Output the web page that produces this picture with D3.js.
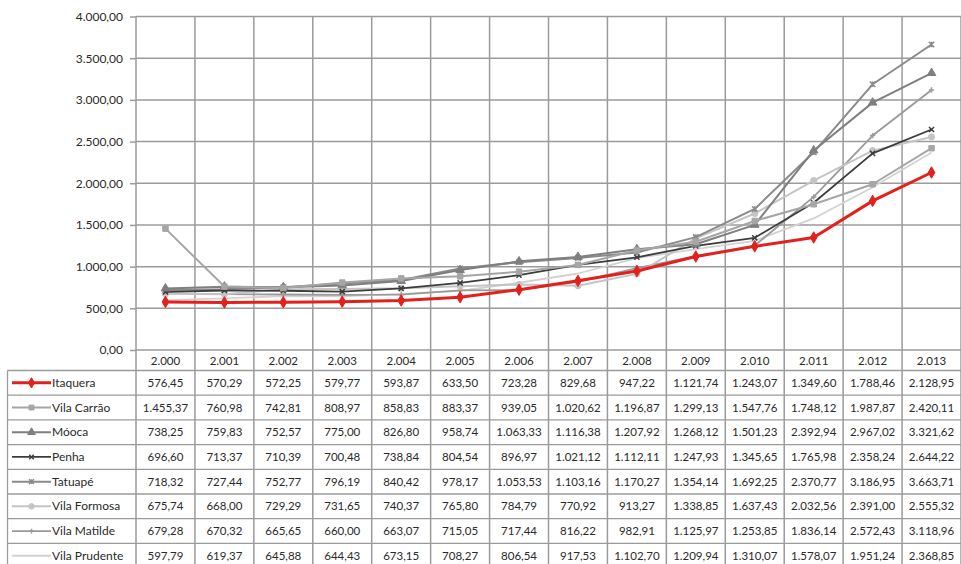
<!DOCTYPE html>
<html>
<head>
<meta charset="utf-8">
<script src="https://cdn.jsdelivr.net/npm/d3@7"></script>
<style>
  html, body { margin: 0; padding: 0; background: #fff; }
  svg { display: block; font-family: Lato, "Open Sans", "Liberation Sans", sans-serif; }
</style>
</head>
<body>
<svg id="chart" width="961" height="564"></svg>
<script>
// Years on the category axis
const years = [2000, 2001, 2002, 2003, 2004, 2005, 2006, 2007, 2008, 2009, 2010, 2011, 2012, 2013];

// Neighbourhood names, in table order
const districts = ["Itaquera", "Vila Carrão", "Móoca", "Penha", "Tatuapé", "Vila Formosa", "Vila Matilde", "Vila Prudente"];

// Yearly values per neighbourhood
const itaquera     = [576.45, 570.29, 572.25, 579.77, 593.87, 633.50, 723.28, 829.68, 947.22, 1121.74, 1243.07, 1349.60, 1788.46, 2128.95];
const vilaCarrao   = [1455.37, 760.98, 742.81, 808.97, 858.83, 883.37, 939.05, 1020.62, 1196.87, 1299.13, 1547.76, 1748.12, 1987.87, 2420.11];
const mooca        = [738.25, 759.83, 752.57, 775.00, 826.80, 958.74, 1063.33, 1116.38, 1207.92, 1268.12, 1501.23, 2392.94, 2967.02, 3321.62];
const penha        = [696.60, 713.37, 710.39, 700.48, 738.84, 804.54, 896.97, 1021.12, 1112.11, 1247.93, 1345.65, 1765.98, 2358.24, 2644.22];
const tatuape      = [718.32, 727.44, 752.77, 796.19, 840.42, 978.17, 1053.53, 1103.16, 1170.27, 1354.14, 1692.25, 2370.77, 3186.95, 3663.71];
const vilaFormosa  = [675.74, 668.00, 729.29, 731.65, 740.37, 765.80, 784.79, 770.92, 913.27, 1338.85, 1637.43, 2032.56, 2391.00, 2555.32];
const vilaMatilde  = [679.28, 670.32, 665.65, 660.00, 663.07, 715.05, 717.44, 816.22, 982.91, 1125.97, 1253.85, 1836.14, 2572.43, 3118.96];
const vilaPrudente = [597.79, 619.37, 645.88, 644.43, 673.15, 708.27, 806.54, 917.53, 1102.70, 1209.94, 1310.07, 1578.07, 1951.24, 2368.85];

// Y-axis tick values
const yTicks = [0, 500, 1000, 1500, 2000, 2500, 3000, 3500, 4000];

const seriesValues = [itaquera, vilaCarrao, mooca, penha, tatuape, vilaFormosa, vilaMatilde, vilaPrudente];

// Line styling per series
const styles = [
  { color: "#e3201c", width: 3,   marker: "diamond", size: 38 },
  { color: "#a6a6a6", width: 2,   marker: "square",  size: 30 },
  { color: "#7f7f7f", width: 2,   marker: "triangle",size: 32 },
  { color: "#3c3c3c", width: 1.8, marker: "x",       size: 26 },
  { color: "#8a8a8a", width: 2,   marker: "star",    size: 30 },
  { color: "#c4c4c4", width: 2,   marker: "circle",  size: 30 },
  { color: "#9a9a9a", width: 1.8, marker: "plus",    size: 28 },
  { color: "#d2d2d2", width: 1.8, marker: "none",    size: 0 }
];

const series = districts.map((name, i) => ({
  name,
  values: years.map((y, j) => ({ year: y, value: seriesValues[i][j] })),
  style: styles[i]
}));

const locale = d3.formatLocale({ decimal: ",", thousands: ".", grouping: [3], currency: ["", ""] });
const fmt2 = locale.format(",.2f");
const fmtYear = locale.format(",d");

const svg = d3.select("#chart");
const gridColor = "#9b9b9b";
const textColor = "#2a2a2a";

const x = d3.scaleBand().domain(years).range([136, 961]).paddingInner(0).paddingOuter(0);
const y = d3.scaleLinear().domain([0, 4000]).range([350, 16.5]);

// Horizontal gridlines and y axis labels
const yAxis = d3.axisLeft(y).tickValues(yTicks).tickFormat(fmt2).tickSize(6).tickPadding(7);
const yG = svg.append("g").attr("transform", "translate(136,0)").call(yAxis);
yG.select(".domain").remove();
yG.selectAll(".tick line").attr("stroke", gridColor).attr("stroke-width", 1.5);
yG.selectAll(".tick text").attr("fill", textColor).attr("font-size", 12).attr("font-family", "Lato, sans-serif");

svg.append("g").selectAll("line").data(yTicks).join("line")
  .attr("x1", 136).attr("x2", 961)
  .attr("y1", d => y(d)).attr("y2", d => y(d))
  .attr("stroke", gridColor).attr("stroke-width", 1.5);

// Data table geometry
const headerTop = 350, rowTop = 370.5, rowH = 24.7;
const tableBottom = rowTop + rowH * districts.length;
const labelLeft = 7.5;

// Vertical category boundaries through the plot and the table
const bounds = years.map(d => x(d)).concat([x.range()[1]]);
svg.append("g").selectAll("line").data(bounds).join("line")
  .attr("x1", d => d).attr("x2", d => d)
  .attr("y1", y(4000)).attr("y2", tableBottom)
  .attr("stroke", gridColor).attr("stroke-width", 1.5);

// Table horizontal rules
const rowLines = d3.range(districts.length + 1).map(i => rowTop + i * rowH);
svg.append("g").selectAll("line").data(rowLines).join("line")
  .attr("x1", labelLeft).attr("x2", 961)
  .attr("y1", d => d).attr("y2", d => d)
  .attr("stroke", gridColor).attr("stroke-width", 1.3);
svg.append("line")
  .attr("x1", labelLeft).attr("x2", labelLeft)
  .attr("y1", rowTop).attr("y2", tableBottom)
  .attr("stroke", gridColor).attr("stroke-width", 1.3);

// Header year labels
svg.append("g").selectAll("text").data(years).join("text")
  .attr("x", d => x(d) + x.bandwidth() / 2)
  .attr("y", (headerTop + rowTop) / 2 + 4.5)
  .attr("text-anchor", "middle")
  .attr("font-size", 11.5).attr("fill", textColor)
  .text(d => fmtYear(d));

// Marker path builder
function markerPath(type, size) {
  const r = Math.sqrt(size) / 2;
  switch (type) {
    case "diamond": return d3.symbol(d3.symbolDiamond, size)();
    case "square": return d3.symbol(d3.symbolSquare, size)();
    case "triangle": return d3.symbol(d3.symbolTriangle, size)();
    case "circle": return d3.symbol(d3.symbolCircle, size)();
    case "x": return `M${-r},${-r}L${r},${r}M${-r},${r}L${r},${-r}`;
    case "plus": return `M${-r},0L${r},0M0,${-r}L0,${r}`;
    case "star": return `M${-r},${-r}L${r},${r}M${-r},${r}L${r},${-r}M0,${-r}L0,${r}`;
    default: return "";
  }
}
function isStroked(type) { return type === "x" || type === "plus" || type === "star"; }

// Lines, drawn back to front so Itaquera sits on top
const line = d3.line().x(d => x(d.year) + x.bandwidth() / 2).y(d => y(d.value));
const drawOrder = series.slice().reverse();
const lineG = svg.append("g");
drawOrder.forEach(s => {
  const g = lineG.append("g");
  g.append("path").datum(s.values)
    .attr("d", line).attr("fill", "none")
    .attr("stroke", s.style.color).attr("stroke-width", s.style.width)
    .attr("stroke-linejoin", "round");
  if (s.style.marker !== "none") {
    g.selectAll("path.m").data(s.values).join("path").attr("class", "m")
      .attr("transform", d => `translate(${x(d.year) + x.bandwidth() / 2},${y(d.value)})`)
      .attr("d", markerPath(s.style.marker, s.style.size))
      .attr("fill", isStroked(s.style.marker) ? "none" : s.style.color)
      .attr("stroke", s.style.color)
      .attr("stroke-width", isStroked(s.style.marker) ? 1.5 : 1);
  }
});

// Table body: legend keys, names and values
series.forEach((s, i) => {
  const cy = rowTop + i * rowH + rowH / 2;
  const row = svg.append("g");
  row.append("line").attr("x1", 12).attr("x2", 51).attr("y1", cy).attr("y2", cy)
    .attr("stroke", s.style.color).attr("stroke-width", s.style.width);
  if (s.style.marker !== "none") {
    row.append("path").attr("transform", `translate(31.5,${cy})`)
      .attr("d", markerPath(s.style.marker, s.style.size * 0.8))
      .attr("fill", isStroked(s.style.marker) ? "none" : s.style.color)
      .attr("stroke", s.style.color)
      .attr("stroke-width", isStroked(s.style.marker) ? 1.4 : 1);
  }
  row.append("text").attr("x", 52).attr("y", cy + 4)
    .attr("font-size", 12).attr("fill", textColor).text(s.name);
  row.selectAll("text.v").data(s.values).join("text").attr("class", "v")
    .attr("x", d => x(d.year) + x.bandwidth() / 2)
    .attr("y", cy + 4)
    .attr("text-anchor", "middle")
    .attr("font-size", 11.5).attr("fill", textColor)
    .text(d => fmt2(d.value));
});
</script>
</body>
</html>
